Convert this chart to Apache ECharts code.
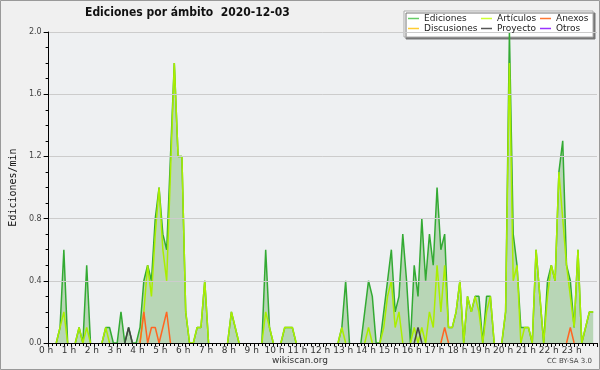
<!DOCTYPE html>
<html><head><meta charset="utf-8">
<script src="https://cdn.jsdelivr.net/npm/echarts@6/dist/echarts.min.js"></script>
<style>html,body{margin:0;padding:0;background:#f0f0f0}#c{width:600px;height:370px}</style>
</head><body><div id="c"></div>
<script>
// 10-minute samples, 6 per hour, 0 h .. 23 h 50
const hourLabels = ['0 h','1 h','2 h','3 h','4 h','5 h','6 h','7 h','8 h','9 h','10 h','11 h','12 h','13 h','14 h','15 h','16 h','17 h','18 h','19 h','20 h','21 h','22 h','23 h'];
const yTicks = [0, 0.4, 0.8, 1.2, 1.6, 2.0];
const ediciones = [
  0,0,0,0.1,0.6,0,   0,0,0.1,0,0.5,0,   0,0,0,0.1,0.1,0,   0,0.2,0,0.1,0,0,
  0.1,0.4,0.5,0.4,0.8,1.0,   0.7,0.6,1.2,1.8,1.2,1.2,   0.2,0,0,0.1,0.1,0.4,   0,0,0,0,0,0,
  0.2,0.1,0,0,0,0,   0,0,0,0.6,0.1,0,   0,0,0.1,0.1,0.1,0,   0,0,0,0,0,0,
  0,0,0,0,0,0.1,   0.4,0,0,0,0,0.2,   0.4,0.3,0,0,0.2,0.4,   0.6,0.2,0.3,0.7,0.4,0,
  0.5,0.3,0.8,0.4,0.7,0.5,   1.0,0.6,0.7,0.1,0.1,0.2,   0.4,0,0.3,0.2,0.3,0.3,   0,0.3,0.3,0,0,0,
  0.2,2.0,0.7,0.5,0.1,0.1,   0.1,0,0.6,0.3,0,0.4,   0.5,0.4,1.1,1.3,0.5,0.4,   0.1,0.6,0,0.1,0.2,0.2
];
const articulos = [
  0,0,0,0.1,0.2,0,   0,0,0.1,0,0.1,0,   0,0,0,0.1,0,0,   0,0,0,0,0,0,
  0,0.2,0.5,0.3,0.7,1.0,   0.6,0.4,1.1,1.8,1.2,1.2,   0.2,0,0,0.1,0.1,0.4,   0,0,0,0,0,0,
  0.2,0.1,0,0,0,0,   0,0,0,0.2,0.1,0,   0,0,0.1,0.1,0.1,0,   0,0,0,0,0,0,
  0,0,0,0,0,0.1,   0,0,0,0,0,0,   0.1,0,0,0,0.1,0.3,   0.4,0.1,0.2,0,0,0,
  0.1,0,0.1,0,0.2,0.1,   0.5,0.2,0.5,0.1,0.1,0.2,   0.4,0,0.3,0.2,0.3,0.2,   0,0.2,0.3,0,0,0,
  0.2,1.8,0.4,0.5,0,0.1,   0.1,0,0.6,0.3,0,0.3,   0.5,0.4,1.1,0.8,0.5,0.3,   0.1,0.6,0,0.1,0.2,0.2
];
const anexos = new Array(144).fill(0);
[[25,0.2],[27,0.1],[28,0.1],[30,0.1],[31,0.2],[104,0.1],[137,0.1]].forEach(p => anexos[p[0]] = p[1]);
const proyecto = new Array(144).fill(0);
[[21,0.1],[97,0.1]].forEach(p => proyecto[p[0]] = p[1]);
const discusiones = new Array(144).fill(0);
const otros = new Array(144).fill(0);

// zero runs lie on the axis line; keep only zeros that bound a non-zero value
const pts = a => a.map((v, i) => {
  const keep = v !== 0 || (i > 0 && a[i - 1] !== 0) || (i < a.length - 1 && a[i + 1] !== 0);
  return [i / 6, keep ? v : null];
});
const chart = echarts.init(document.getElementById('c'), null, {renderer: 'canvas'});
const lw = 1.5;
function lineSeries(name, data, color, extra) {
  return Object.assign({
    name, type: 'line', data: pts(data), symbol: 'none', color, connectNulls: false,
    lineStyle: {width: lw, color}, animation: false
  }, extra || {});
}
const legendText = {fontSize: 9, color: '#222', fontFamily: 'DejaVu Sans'};
function legendCol(left, items) {
  return {left, top: 14, orient: 'vertical', itemGap: 1, itemWidth: 11, itemHeight: 1.5, icon: 'rect',
    textStyle: legendText, selectedMode: false, padding: 0, z: 10,
    data: items.map(([name, color]) => ({name, itemStyle: {color}}))};
}
chart.setOption({
  backgroundColor: '#f0f0f0',
  animation: false,
  title: {text: 'Ediciones por ámbito  2020-12-03', left: 80, top: 2,
    textStyle: {fontSize: 12, fontWeight: 'bold', color: '#111', fontFamily: "'DejaVu Sans Condensed', 'Liberation Sans', sans-serif"}},
  graphic: [
    {type: 'rect', z: 0, shape: {x: 0.5, y: 0.5, width: 599, height: 369}, style: {fill: 'none', stroke: '#999', lineWidth: 1}},
    {type: 'rect', z: 0, shape: {x: 404, y: 11, width: 189, height: 26}, style: {fill: '#fff', stroke: '#aaa', lineWidth: 1, shadowColor: '#777', shadowOffsetX: 2, shadowOffsetY: 2, shadowBlur: 0}},
    {type: 'text', left: 'center', top: 356, style: {text: 'wikiscan.org', fontSize: 9, fill: '#333', fontFamily: 'DejaVu Sans'}},
    {type: 'text', right: 8, top: 358, style: {text: 'CC BY-SA 3.0', fontSize: 7, fill: '#444', fontFamily: 'DejaVu Sans'}}
  ],
  legend: [
    legendCol(408, [['Ediciones', '#66cc66'], ['Discusiones', '#ffcc33']]),
    legendCol(481, [['Artículos', '#ccff33'], ['Proyecto', '#555555']]),
    legendCol(540, [['Anexos', '#ff7733'], ['Otros', '#9933ff']])
  ],
  grid: {left: 46, right: 3, top: 32, bottom: 27, show: true, backgroundColor: '#eef0f2', borderWidth: 0},
  xAxis: {type: 'value', min: 0, max: 24, interval: 1, z: 5,
    axisLine: {lineStyle: {color: '#000', width: 1}},
    axisTick: {show: true, length: 4, lineStyle: {color: '#000'}},
    minorTick: {show: true, splitNumber: 6, length: 3, lineStyle: {color: '#000'}},
    splitLine: {show: false},
    axisLabel: {fontSize: 9, color: '#333', margin: 3, padding: [0, 5, 0, 0], fontFamily: 'DejaVu Sans',
      formatter: v => (v < 24 ? hourLabels[v] : '')}},
  yAxis: {type: 'value', min: 0, max: 2, interval: 0.4, z: 5,
    name: 'Ediciones/min', nameLocation: 'middle', nameGap: 30,
    nameTextStyle: {fontSize: 10, color: '#111', fontFamily: 'DejaVu Sans Mono'},
    axisLine: {show: true, lineStyle: {color: '#000', width: 1}},
    axisTick: {show: true, length: 5, lineStyle: {color: '#000'}},
    minorTick: {show: true, splitNumber: 4, length: 3, lineStyle: {color: '#000'}},
    splitLine: {show: true, lineStyle: {color: '#cccccc', width: 1}},
    axisLabel: {fontSize: 8, color: '#444', margin: 7, fontFamily: 'DejaVu Sans',
      formatter: v => v.toFixed(1)}},
  series: [
    lineSeries('Ediciones', ediciones, '#33aa33', {areaStyle: {color: 'rgba(140,195,135,0.8)'}}),
    lineSeries('Discusiones', discusiones, '#ffcc33'),
    lineSeries('Artículos', articulos, '#aaee00'),
    lineSeries('Anexos', anexos, '#ff6622'),
    lineSeries('Proyecto', proyecto, '#444444'),
    lineSeries('Otros', otros, '#9933ff')
  ]
});
</script></body></html>
